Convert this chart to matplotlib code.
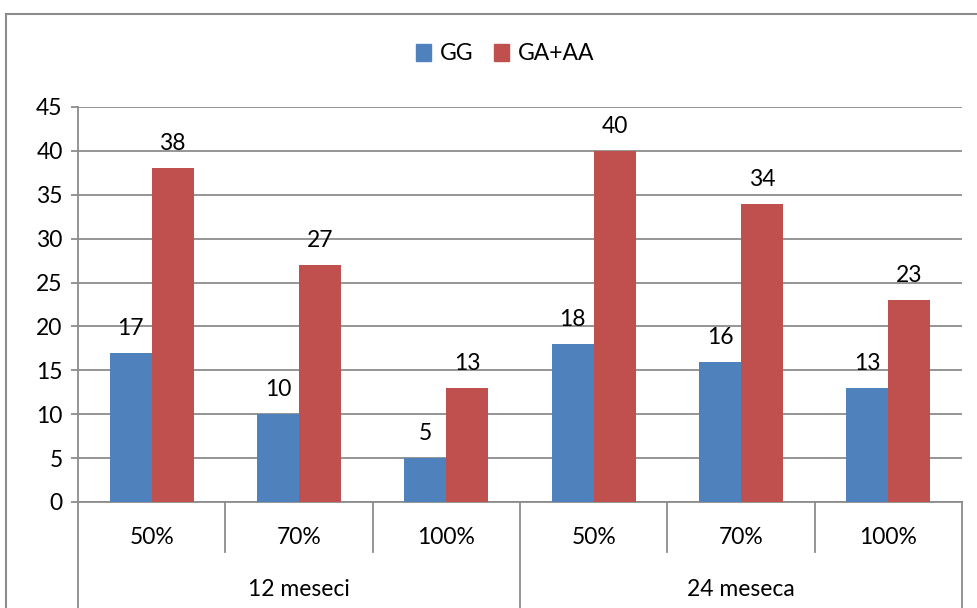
import numpy as np
import matplotlib
matplotlib.use("Agg")
import matplotlib.pyplot as plt
from matplotlib.lines import Line2D
from matplotlib.patches import Patch

plt.rcParams['font.family'] = ['Lato', 'DejaVu Sans']

categories = ["50%", "70%", "100%", "50%", "70%", "100%"]
groups = ["12 meseci", "24 meseca"]
gg = [17, 10, 5, 18, 16, 13]
ga_aa = [38, 27, 13, 40, 34, 23]
series_names = ["GG", "GA+AA"]

blue = "#4F81BD"
red = "#C0504D"
grey = "#8C8C8C"
fs = 16.5

W, H = 977, 608
fig = plt.figure(figsize=(W / 100, H / 100), dpi=100)
left, right, top, bottom = 78, 962, 107, 502
ax = fig.add_axes([left / W, (H - bottom) / H, (right - left) / W, (bottom - top) / H])

x = np.arange(len(categories))
w = 1 / 3.5
ax.bar(x - w / 2, gg, width=w, color=blue, zorder=3)
ax.bar(x + w / 2, ga_aa, width=w, color=red, zorder=3)

for xi, v in zip(x - w / 2, gg):
    ax.annotate(str(v), (xi, v), xytext=(0, 13), textcoords="offset points",
                ha="center", va="baseline", fontsize=fs)
for xi, v in zip(x + w / 2, ga_aa):
    ax.annotate(str(v), (xi, v), xytext=(0, 13), textcoords="offset points",
                ha="center", va="baseline", fontsize=fs)

ax.set_xlim(-0.5, len(categories) - 0.5)
ax.set_ylim(0, 45)
ax.set_yticks(range(0, 46, 5))
ax.yaxis.grid(True, color=grey, linewidth=1.3, zorder=0)
ax.set_axisbelow(True)
for s in ["top", "right"]:
    ax.spines[s].set_visible(False)
for s in ["left", "bottom"]:
    ax.spines[s].set_color(grey)
    ax.spines[s].set_linewidth(1.3)
ax.tick_params(axis="y", length=5, width=1.3, color=grey, labelsize=fs, pad=6)
ax.set_xticks([])

# multi-level category axis
ph = bottom - top
row1 = -50 / ph
row2 = -110 / ph
trans = ax.get_xaxis_transform()
for i in range(len(categories) + 1):
    xb = i - 0.5
    y_end = row2 if i % 3 == 0 else row1
    ax.add_line(Line2D([xb, xb], [0, y_end], transform=trans, color=grey,
                       linewidth=1.3, clip_on=False))
for xi, lab in zip(x, categories):
    ax.text(xi, -35 / ph, lab, transform=trans, ha="center", va="center", fontsize=fs)
for gi, g in enumerate(groups):
    ax.text(gi * 3 + 1, -88 / ph, g, transform=trans, ha="center", va="center", fontsize=fs)

# legend
handles = [Patch(color=blue), Patch(color=red)]
fig.legend(handles, series_names, loc="center", bbox_to_anchor=(505 / W, 1 - 54 / H),
           ncol=2, frameon=False, fontsize=fs, handlelength=0.65, handleheight=0.7,
           handletextpad=0.4, columnspacing=0.9)

# outer chart border
fig.add_artist(Line2D([5.5 / W, 5.5 / W], [0, 1 - 13.5 / H], transform=fig.transFigure,
                      color=grey, linewidth=1.5))
fig.add_artist(Line2D([5.5 / W, 1], [1 - 13.5 / H, 1 - 13.5 / H], transform=fig.transFigure,
                      color=grey, linewidth=1.5))

fig.savefig("out.png", dpi=100)
